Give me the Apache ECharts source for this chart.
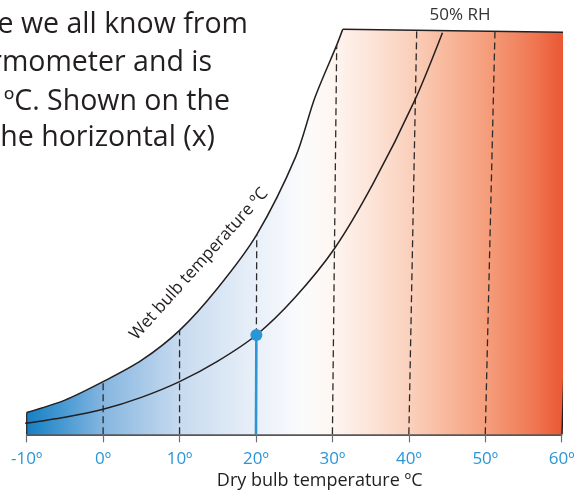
<!DOCTYPE html>
<html><head><meta charset="utf-8">
<script src="https://cdn.jsdelivr.net/npm/echarts@6/dist/echarts.min.js"></script>
<style>html,body{margin:0;padding:0;background:#fff}#c{width:580px;height:492px}</style>
</head><body><div id="c"></div>
<script>
// ---- data (dry bulb °C on x, moisture content g/kg on y) ----
const xTickValues = [-10, 0, 10, 20, 30, 40, 50, 60];
const satX = [-10, -5, 0, 5, 10, 15, 20.1, 25.2, 27.7, 30.56, 31.35];
const satY = [1.6, 2.5, 3.85, 5.4, 7.6, 10.7, 14.6, 20.3, 24.6, 28.45, 29.6];
const capX = [31.35, 61.65, 60.04];
const capY = [29.6, 29.37, 0];
const leftEdgeX = [-10, -10];
const leftEdgeY = [0, 1.6];
const rh50X = [-10.2, -5, 0, 5, 10, 15, 20.05, 25.1, 30.3, 35.3, 40.8, 44.4];
const rh50Y = [0.8, 1.25, 1.83, 2.7, 3.85, 5.35, 7.26, 10.0, 13.6, 18.3, 24.45, 29.36];
const dashBaseX = [0, 10, 20, 30, 40, 50];
const dashTopX = [0, 10, 20.1, 30.56, 41.03, 51.27];
const dashTopY = [3.85, 7.6, 14.6, 28.45, 29.5, 29.45];
const pointX = [20, 20.05];
const pointY = [0, 7.26];
const paragraphLines = ['e we all know from', 'rmometer and is', 'ºC. Shown on the', 'he horizontal (x)'];

const BLUE = '#2a96d6';
const INK = '#231f20';
const grad = {
  type: 'linear', x: 27, y: 0, x2: 575, y2: 0, global: true,
  colorStops: [
    {offset: 0, color: '#1580c4'},
    {offset: 0.07, color: '#4b9bd3'},
    {offset: 0.14, color: '#86b6e0'},
    {offset: 0.28, color: '#c7dbef'},
    {offset: 0.42, color: '#e9f0f9'},
    {offset: 0.50, color: '#fafbfd'},
    {offset: 0.55, color: '#fef7f3'},
    {offset: 0.62, color: '#fde6db'},
    {offset: 0.70, color: '#fad0bc'},
    {offset: 0.77, color: '#f8b79a'},
    {offset: 0.84, color: '#f59d7b'},
    {offset: 0.92, color: '#f07a55'},
    {offset: 1, color: '#e94a27'}
  ]
};
const zip = (xs, ys) => xs.map((x, i) => [x, ys[i]]);

const series = [
  {type: 'line', data: zip(satX, satY), smooth: 0.3, symbol: 'none',
   lineStyle: {color: INK, width: 1.5}, areaStyle: {color: grad, opacity: 1}, clip: false},
  {type: 'line', data: zip(capX, capY), symbol: 'none',
   lineStyle: {color: INK, width: 1.5}, areaStyle: {color: grad, opacity: 1}, clip: false},
  {type: 'line', data: zip(leftEdgeX, leftEdgeY), symbol: 'none',
   lineStyle: {color: INK, width: 1.2}, clip: false}
];
dashBaseX.forEach((bx, i) => {
  series.push({type: 'line', data: [[bx, 0], [dashTopX[i], dashTopY[i]]], symbol: 'none',
    lineStyle: {color: '#2b2b2b', width: 1.3, type: [7, 4]}, clip: false});
});
series.push({type: 'line', data: zip(rh50X, rh50Y), smooth: 0.3, symbol: 'none',
  lineStyle: {color: INK, width: 1.5}, clip: false});
series.push({type: 'line', data: zip(pointX, pointY), symbol: 'circle', showSymbol: true,
  symbolSize: (v, p) => (p.dataIndex === 1 ? 12 : 0),
  itemStyle: {color: BLUE, borderWidth: 0},
  lineStyle: {color: BLUE, width: 2.6}, clip: false, z: 5});

const graphics = paragraphLines.map((t, i) => ({
  type: 'text', x: [248, 212, 230, 215][i], y: [25, 63, 102, 138][i],
  style: {text: t, fontSize: 28.5, fontFamily: 'Open Sans', fill: INK, align: 'right', verticalAlign: 'middle'}
}));
graphics.push({type: 'text', x: 460, y: 15,
  style: {text: '50% RH', fontSize: 17, fontFamily: 'Open Sans', fill: '#333', align: 'center', verticalAlign: 'middle'}});
graphics.push({type: 'text', x: 199, y: 264, rotation: 48 * Math.PI / 180,
  style: {text: 'Wet bulb temperature ºC', fontSize: 17, fontFamily: 'Open Sans', fill: INK, align: 'center', verticalAlign: 'middle'}});

const chart = echarts.init(document.getElementById('c'), null, {renderer: 'canvas'});
chart.setOption({
  animation: false,
  backgroundColor: '#fff',
  grid: {left: 26.7, right: 18.3, top: 23.9, bottom: 57.7, outerBoundsMode: 'none', containLabel: false},
  xAxis: {
    type: 'value', min: xTickValues[0], max: xTickValues[xTickValues.length - 1], interval: 10,
    axisLine: {lineStyle: {color: INK, width: 1.5}},
    axisTick: {length: 8, lineStyle: {color: '#6d6e71', width: 1.2}},
    splitLine: {show: false},
    axisLabel: {formatter: v => v + 'º', color: BLUE, fontSize: 17, fontFamily: 'Open Sans', margin: 16},
    name: 'Dry bulb temperature ºC', nameLocation: 'middle', nameGap: 36,
    nameTextStyle: {fontSize: 18, color: INK, fontFamily: 'Open Sans', padding: [0, 0, 0, 51]}
  },
  yAxis: {type: 'value', min: 0, max: 30, show: false},
  series: series,
  graphic: graphics
});
</script></body></html>
